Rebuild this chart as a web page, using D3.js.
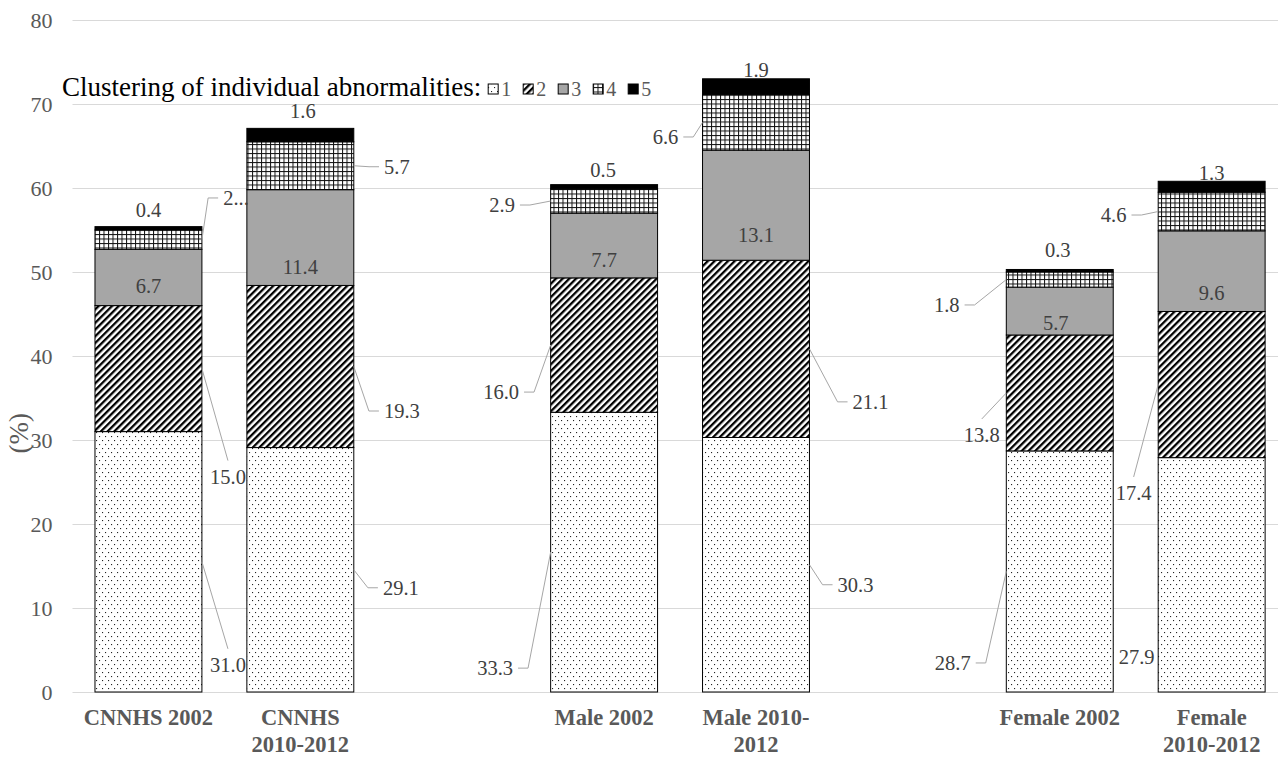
<!DOCTYPE html>
<html>
<head>
<meta charset="utf-8">
<script src="https://cdn.jsdelivr.net/npm/d3@7"></script>
<style>
  body { margin: 0; background: #fff; }
  svg text { font-family: "Liberation Serif", "Times New Roman", serif; }
</style>
</head>
<body>
<svg id="chart"></svg>
<script>
// ---- data ----
const categories = ["CNNHS 2002", "CNNHS 2010-2012", "Male 2002", "Male 2010-2012", "Female 2002", "Female 2010-2012"];
const clusters = ["1", "2", "3", "4", "5"];
const cluster1 = [31.0, 29.1, 33.3, 30.3, 28.7, 27.9];
const cluster2 = [15.0, 19.3, 16.0, 21.1, 13.8, 17.4];
const cluster3 = [6.7, 11.4, 7.7, 13.1, 5.7, 9.6];
const cluster4 = [2.3, 5.7, 2.9, 6.6, 1.8, 4.6];
const cluster5 = [0.4, 1.6, 0.5, 1.9, 0.3, 1.3];
const yTicks = [0, 10, 20, 30, 40, 50, 60, 70, 80];

// the x axis has an empty slot between each pair of bars
const slots = ["CNNHS 2002", "CNNHS 2010-2012", "gap-a", "Male 2002", "Male 2010-2012", "gap-b", "Female 2002", "Female 2010-2012"];
const tickLines = {
  "CNNHS 2002": ["CNNHS 2002"],
  "CNNHS 2010-2012": ["CNNHS", "2010-2012"],
  "Male 2002": ["Male 2002"],
  "Male 2010-2012": ["Male 2010-", "2012"],
  "Female 2002": ["Female 2002"],
  "Female 2010-2012": ["Female", "2010-2012"]
};

// hand placed data labels: [dx from bar centre, dy from segment middle, leader line?]
const labelPlacement = [
  [[79.5, 103, 1], [79.5, 108, 1], [0, 8.5, 0], [87.5, -41.7, 1], [0, -18, 0]],
  [[100.5, 18, 1], [101.5, 44.5, 1], [0, 29, 0], [96.5, 1, 1], [2.5, -24, 0]],
  [[-109, 116, 1], [-103, 47, 1], [0, 14, 0], [-102, 4, 1], [-1, -17, 0]],
  [[99.5, 20, 1], [114.5, 53, 1], [0, 30, 0], [-90.5, 14.5, 1], [0, -17, 0]],
  [[-107, 91.5, 1], [-78, 42, 1], [-4, 12, 0], [-113, 25.4, 1], [-2, -20.7, 0]],
  [[-75, 82, 0], [-78, 108.4, 1], [0, 22, 0], [-98, 3.5, 1], [0, -13.7, 0]]
];

const width = 1278, height = 758;
const svg = d3.select("#chart").attr("width", width).attr("height", height);

const rows = categories.map((c, i) => ({
  cat: c, "1": cluster1[i], "2": cluster2[i], "3": cluster3[i], "4": cluster4[i], "5": cluster5[i]
}));
const series = d3.stack().keys(clusters)(rows);

const x = d3.scaleBand()
  .domain(slots)
  .range([72.5, 1287.6])
  .paddingInner(0.296)
  .paddingOuter(0.148);

const y = d3.scaleLinear().domain([0, 80]).range([692, 20]);

// ---- fill patterns ----
const defs = svg.append("defs");

const dots = defs.append("pattern").attr("id", "p1")
  .attr("patternUnits", "userSpaceOnUse").attr("width", 6).attr("height", 8);
dots.append("rect").attr("width", 6).attr("height", 8).attr("fill", "#fff");
dots.append("rect").attr("x", 0).attr("y", 0).attr("width", 1.1).attr("height", 1.1).attr("fill", "#222");
dots.append("rect").attr("x", 3).attr("y", 4).attr("width", 1.1).attr("height", 1.1).attr("fill", "#222");

const stripes = defs.append("pattern").attr("id", "p2")
  .attr("patternUnits", "userSpaceOnUse").attr("width", 4.75).attr("height", 10)
  .attr("patternTransform", "rotate(45)");
stripes.append("rect").attr("width", 4.75).attr("height", 10).attr("fill", "#fff");
stripes.append("rect").attr("width", 2.3).attr("height", 10).attr("fill", "#000");

const grid = defs.append("pattern").attr("id", "p4")
  .attr("patternUnits", "userSpaceOnUse").attr("width", 4.5).attr("height", 4.5);
grid.append("rect").attr("width", 4.5).attr("height", 4.5).attr("fill", "#fff");
grid.append("rect").attr("width", 4.5).attr("height", 1).attr("fill", "#111");
grid.append("rect").attr("width", 1).attr("height", 4.5).attr("fill", "#111");

const fills = ["url(#p1)", "url(#p2)", "#a6a6a6", "url(#p4)", "#000"];

// ---- gridlines and y axis ----
const yAxis = svg.append("g")
  .attr("transform", "translate(72.5,0)")
  .call(d3.axisLeft(y).tickValues(yTicks).tickSize(-(width - 72.5)).tickPadding(20));
yAxis.attr("font-family", null);
yAxis.select(".domain").remove();
yAxis.selectAll(".tick line").attr("stroke", "#d9d9d9").attr("stroke-width", 1);
yAxis.selectAll(".tick text")
  .attr("fill", "#595959").style("font-size", "22px");

svg.append("text")
  .attr("transform", "translate(19," + y(30.8) + ") rotate(-90)")
  .attr("text-anchor", "middle").attr("dy", "0.35em")
  .attr("fill", "#595959").style("font-size", "27px")
  .text("(%)");

// ---- x axis labels ----
const xAxis = svg.append("g").attr("transform", "translate(0,692)");
categories.forEach(c => {
  const t = xAxis.append("text")
    .attr("x", x(c) + x.bandwidth() / 2)
    .attr("y", 33)
    .attr("text-anchor", "middle")
    .attr("fill", "#595959")
    .style("font-size", "22.5px").style("font-weight", "bold");
  tickLines[c].forEach((ln, k) => {
    t.append("tspan").attr("x", x(c) + x.bandwidth() / 2).attr("dy", k === 0 ? 0 : 27).text(ln);
  });
});

// ---- bars ----
svg.append("g").selectAll("g")
  .data(series)
  .join("g")
  .attr("fill", (d, i) => fills[i])
  .selectAll("rect")
  .data(d => d)
  .join("rect")
  .attr("x", d => x(d.data.cat))
  .attr("y", d => y(d[1]))
  .attr("width", x.bandwidth())
  .attr("height", d => y(d[0]) - y(d[1]))
  .attr("stroke", "#000")
  .attr("stroke-width", 1);

// ---- data labels with leader lines ----
const labels = svg.append("g");
series.forEach((s, si) => {
  s.forEach((d, ci) => {
    const [dx, dy, lead] = labelPlacement[ci][si];
    const cx = x(d.data.cat) + x.bandwidth() / 2;
    const ym = y((d[0] + d[1]) / 2);
    const tx = cx + dx, ty = ym + dy;
    let txt = d.data[clusters[si]].toFixed(1);
    if (ci === 0 && si === 3) txt = "2...";  // truncated in the original
    const t = labels.append("text")
      .attr("x", tx).attr("y", ty).attr("dy", "0.35em")
      .attr("text-anchor", "middle")
      .attr("fill", "#404040").style("font-size", "20.5px")
      .text(txt);
    if (!lead) return;
    const w = t.node().getComputedTextLength();
    const side = dx > 0 ? 1 : -1;
    const edge = side > 0 ? x(d.data.cat) + x.bandwidth() : x(d.data.cat);
    const near = tx - side * w / 2;
    let pts;
    if ((near - edge) * side < 14) {
      pts = [[edge, ym], [tx, ty - Math.sign(dy) * 16]];
    } else {
      pts = [[edge, ym], [near - side * 15, ty], [near - side * 5, ty]];
    }
    labels.append("path")
      .attr("d", d3.line()(pts))
      .attr("fill", "none").attr("stroke", "#a6a6a6").attr("stroke-width", 1);
  });
});

// ---- legend ----
const legend = svg.append("g").attr("transform", "translate(62,87)");
const title = legend.append("text")
  .attr("dy", "0.35em").attr("fill", "#000")
  .style("font-size", "27px")
  .text("Clustering of individual abnormalities:");
let lx = title.node().getComputedTextLength() + 7;
clusters.forEach((k, i) => {
  legend.append("rect")
    .attr("x", lx).attr("y", -3).attr("width", 10).attr("height", 10)
    .attr("fill", fills[i]).attr("stroke", "#000").attr("stroke-width", 1);
  legend.append("text")
    .attr("x", lx + 13).attr("y", 2).attr("dy", "0.35em").attr("fill", "#595959")
    .style("font-size", "20px")
    .text(k);
  lx += 35;
});
</script>
</body>
</html>
